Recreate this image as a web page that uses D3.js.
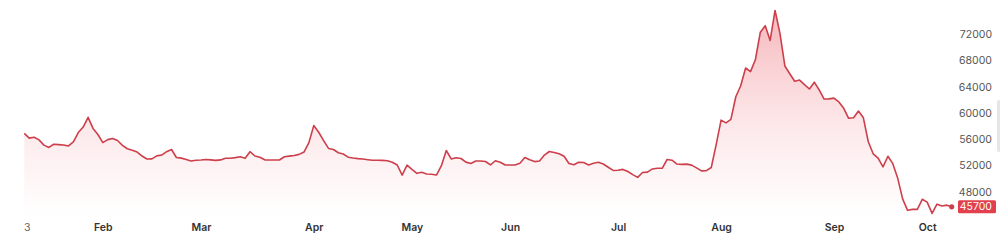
<!DOCTYPE html>
<html>
<head>
<meta charset="utf-8">
<script src="https://cdn.jsdelivr.net/npm/d3@7"></script>
<style>
  html, body { margin: 0; padding: 0; background: #fff; }
  svg { display: block; font-family: Inter, "Noto Sans", sans-serif; }
</style>
</head>
<body>
<div id="chart"></div>
<script>
// daily closes, one per trading session
const prices = [
  56900, 56170, 56290, 55900, 55100, 54750, 55230, 55180, 55130, 54970,
  55580, 57020, 57860, 59340, 57650, 56720, 55480, 55940, 56110, 55800,
  55060, 54550, 54330, 54040, 53440, 52980, 53000, 53460, 53590, 54100,
  54430, 53210, 53120, 52910, 52680, 52790, 52830, 52920, 52850, 52770,
  52850, 53090, 53090, 53200, 53330, 53090, 54100, 53440, 53240, 52860,
  52830, 52830, 52830, 53330, 53430, 53530, 53690, 54050, 55480, 58090,
  57060, 55800, 54600, 54430, 53940, 53750, 53260, 53140, 53040, 52980,
  52880, 52790, 52790, 52770, 52720, 52500, 52070, 50540, 52040, 51400,
  50800, 50960, 50700, 50650, 50540, 51960, 54280, 53000, 53180, 53060,
  52510, 52300, 52680, 52680, 52600, 52100, 52720, 52500, 52070, 52070,
  52070, 52330, 53210, 52880, 52590, 52680, 53590, 54130, 53990, 53780,
  53410, 52300, 52110, 52480, 52450, 52080, 52340, 52480, 52220, 51730,
  51240, 51270, 51400, 51080, 50600, 50190, 50920, 50990, 51470, 51570,
  51570, 52910, 52800, 52220, 52170, 52200, 52050, 51640, 51180, 51210,
  51690, 55190, 58920, 58500, 59020, 62480, 64150, 66860, 66310, 68160,
  72320, 73310, 71070, 75630, 72150, 67170, 65990, 64850, 65020, 64340,
  63660, 64700, 63510, 62130, 62160, 62270, 61680, 60720, 59190, 59270,
  60300, 59270, 55620, 53780, 53120, 51790, 53400, 52280, 50040, 46910,
  45160, 45300, 45310, 46840, 46410, 44690, 46100, 45820, 45950, 45700
];

const monthLabels = ["3", "Feb", "Mar", "Apr", "May", "Jun", "Jul", "Aug", "Sep", "Oct"];
const monthIndex  = [0.5, 16, 36, 59, 79, 99, 121, 142, 165, 184];

const priceTicks = [48000, 52000, 56000, 60000, 64000, 68000, 72000];
const lastPrice = prices[prices.length - 1];

const width = 1000, height = 241;

const svg = d3.select("#chart").append("svg")
    .attr("width", width)
    .attr("height", height)
    .attr("viewBox", [0, 0, width, height]);

const x = d3.scaleLinear()
    .domain([0, prices.length - 1])
    .range([24.3, 951.7]);

const y = d3.scaleLinear()
    .domain([48000, 72000])
    .range([191.7, 34.3]);

const baseY = 218;

// gradient under the line
const defs = svg.append("defs");
const grad = defs.append("linearGradient")
    .attr("id", "fillGrad")
    .attr("gradientUnits", "userSpaceOnUse")
    .attr("x1", 0).attr("x2", 0)
    .attr("y1", y(75000)).attr("y2", baseY);
grad.append("stop").attr("offset", 0).attr("stop-color", "#e8505c").attr("stop-opacity", 0.4);
grad.append("stop").attr("offset", 0.55).attr("stop-color", "#ef6873").attr("stop-opacity", 0.15);
grad.append("stop").attr("offset", 1).attr("stop-color", "#f07a84").attr("stop-opacity", 0);

const area = d3.area()
    .x((d, i) => x(i))
    .y0(baseY)
    .y1(d => y(d));

const line = d3.line()
    .x((d, i) => x(i))
    .y(d => y(d));

svg.append("path")
    .datum(prices)
    .attr("d", area)
    .attr("fill", "url(#fillGrad)");

svg.append("path")
    .datum(prices)
    .attr("d", line)
    .attr("fill", "none")
    .attr("stroke", "#cc3f4b")
    .attr("stroke-width", 1.6)
    .attr("stroke-linejoin", "round");

svg.append("circle")
    .attr("cx", x(prices.length - 1))
    .attr("cy", y(lastPrice))
    .attr("r", 2.6)
    .attr("fill", "#cc3f4b");

// right price axis
const yAxis = d3.axisRight(y)
    .tickValues(priceTicks)
    .tickSize(0)
    .tickPadding(0)
    .tickFormat(d3.format("d"));

svg.append("g")
    .attr("transform", "translate(992,0)")
    .call(yAxis)
    .call(g => g.select(".domain").remove())
    .call(g => g.selectAll("text")
        .attr("text-anchor", "end")
        .attr("fill", "#555")
        .attr("font-size", 10.5)
        .attr("font-family", "Inter, 'Noto Sans', sans-serif"));

// last price badge
const badge = svg.append("g")
    .attr("transform", `translate(958,${y(lastPrice)})`);
badge.append("rect")
    .attr("x", 0).attr("y", -6.5)
    .attr("width", 38).attr("height", 13)
    .attr("rx", 1.5)
    .attr("fill", "#e1404c");
badge.append("text")
    .attr("x", 34).attr("y", 0)
    .attr("dy", "0.35em")
    .attr("text-anchor", "end")
    .attr("fill", "#fff")
    .attr("font-size", 10.5)
    .text(d3.format("d")(lastPrice));

// month axis
const xAxis = d3.axisBottom(x)
    .tickValues(monthIndex)
    .tickSize(0)
    .tickPadding(0)
    .tickFormat((d, i) => monthLabels[i]);

svg.append("g")
    .attr("transform", "translate(0,224)")
    .call(xAxis)
    .call(g => g.select(".domain").remove())
    .call(g => g.selectAll("text")
        .attr("fill", (d, i) => i === 0 ? "#666" : "#333")
        .attr("font-weight", (d, i) => i === 0 ? 400 : 600)
        .attr("font-size", 10.5)
        .attr("font-family", "Inter, 'Noto Sans', sans-serif"));

// scrollbar sliver at the right edge
svg.append("rect")
    .attr("x", 997).attr("y", 100)
    .attr("width", 4).attr("height", 52)
    .attr("rx", 2)
    .attr("fill", "#e6e6e6");
</script>
</body>
</html>
